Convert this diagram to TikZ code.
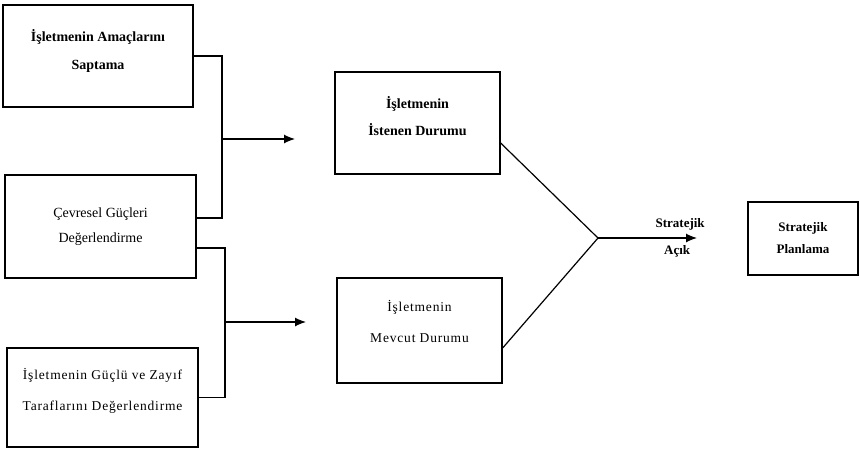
\documentclass[tikz,border=0pt]{standalone}
\usepackage{fontspec}
\setmainfont{Liberation Serif}
\newfontfamily\spaced[LetterSpace=6]{Liberation Serif}
\usepackage{tikz}
\usetikzlibrary{arrows.meta, positioning, calc}
\tikzset{
  sp-box/.style={
    rectangle, draw=black, line width=1.3pt, fill=white, inner sep=0pt,
    align=center, font=\fontsize{14}{27}\selectfont
  },
  sp-bold/.style={font=\fontsize{14}{28}\selectfont\bfseries},
  sp-flow/.style={-{Latex[length=11pt,width=9pt]}, line width=1.2pt},
  sp-link/.style={line width=1.2pt},
}
\begin{document}
\begin{tikzpicture}[x=1pt, y=-1pt]
  \useasboundingbox (0,0) rectangle (860,451);

  % left column
  \node[sp-box, sp-bold, text depth=13pt, minimum width=190pt, minimum height=102pt] (amac) at (98,56)
    {İşletmenin Amaçlarını \\ Saptama};
  \node[sp-box, font=\fontsize{14}{25}\selectfont, minimum width=191pt, minimum height=103pt] (cevre) at (100.5,226.5)
    {Çevresel Güçleri \\ Değerlendirme};
  \node[sp-box, font=\fontsize{13.5}{31}\selectfont\spaced, text depth=17pt, minimum width=191pt, minimum height=99pt] (guclu) at (102.5,397.5)
    {İşletmenin Güçlü ve Zayıf \\ Taraflarını Değerlendirme};

  % middle column
  \node[sp-box, sp-bold, font=\fontsize{14}{27}\selectfont\bfseries, text depth=15pt, minimum width=165pt, minimum height=102pt] (isten) at (417.5,123)
    {İşletmenin \\ İstenen Durumu};
  \node[sp-box, font=\fontsize{13.5}{31}\selectfont\spaced, text depth=19pt, minimum width=165pt, minimum height=105pt] (mevcut) at (419.5,330.5)
    {İşletmenin \\ Mevcut Durumu};

  % right
  \node[sp-box, font=\fontsize{13}{22}\selectfont\bfseries, minimum width=110pt, minimum height=73pt] (plan) at (803,238.5)
    {Stratejik \\ Planlama};

  \coordinate (j1) at (222,139);
  \coordinate (a1) at (295,139);
  \coordinate (j2) at (225,322);
  \coordinate (a2) at (306,322);
  \coordinate (j3) at (598,238);
  \coordinate (a3) at (697,238);

  \draw[sp-link] (amac.east) -| (j1) |- ([yshift=8.5pt]cevre.east);
  \draw[sp-flow] (j1) -- (a1);
  \draw[sp-link] ([yshift=-21.5pt]cevre.east) -| (j2) |- (guclu.east);
  \draw[sp-flow] (j2) -- (a2);

  \draw[sp-link] ([yshift=-20pt]isten.east) -- (j3);
  \draw[sp-link] ([yshift=-17.5pt]mevcut.east) -- (j3);
  \draw[sp-flow] (j3) -- (a3)
    node[pos=0.83, above=4pt, font=\fontsize{13}{15}\selectfont\bfseries] (acik1) {Stratejik}
    node[pos=0.8, below=4pt, font=\fontsize{13}{15}\selectfont\bfseries] (acik2) {Açık};

\end{tikzpicture}
\end{document}
